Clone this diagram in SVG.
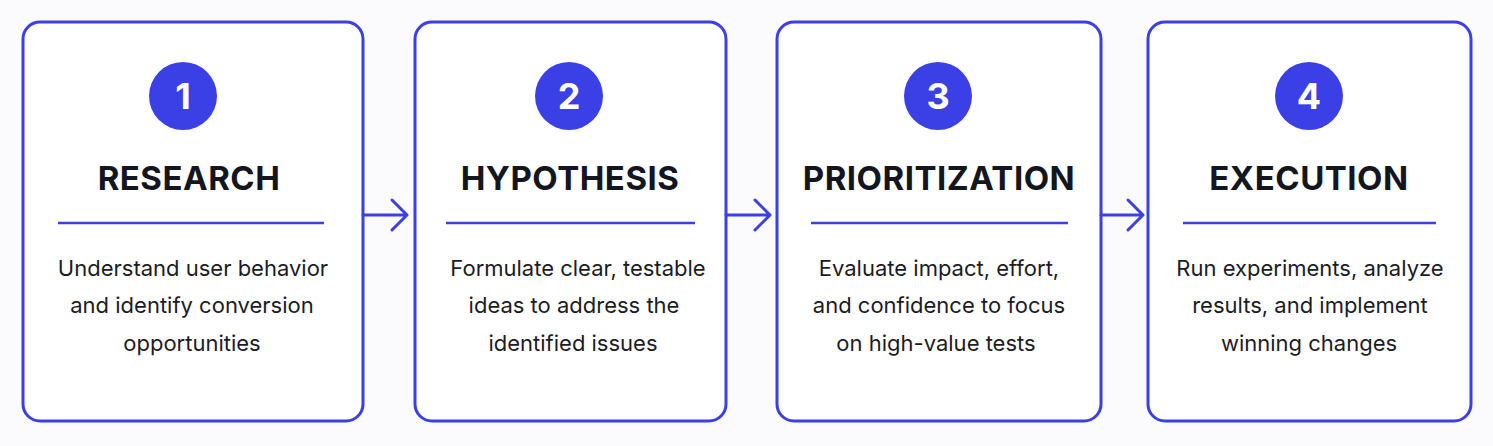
<svg xmlns="http://www.w3.org/2000/svg" width="1493" height="446" viewBox="0 0 1493 446">
<style>
.box{fill:#ffffff;stroke:#3b3fe6;stroke-width:3}
.circ{fill:#3b3fe6}
.num{font-family:Inter,"Noto Sans",sans-serif;font-weight:700;font-size:36px;fill:#ffffff;text-anchor:middle}
.title{font-family:Inter,"Noto Sans",sans-serif;font-weight:700;font-size:33px;fill:#14161f;text-anchor:middle;letter-spacing:0.5px}
.div{stroke:#3b3fe6;stroke-width:2.5}
.desc{font-family:Inter,"Noto Sans",sans-serif;font-size:22px;fill:#1c1c24;text-anchor:middle}
.conn{stroke:#3b3fe6;stroke-width:3;fill:none;stroke-linecap:round;stroke-linejoin:round}
</style>
<rect width="1493" height="446" fill="#fbfbfd"/>
<g id="node1">
<rect class="box" x="23" y="22" width="340" height="399" rx="17"/>
<circle class="circ" cx="183" cy="96" r="34"/>
<text class="num" x="183" y="109">1</text>
<text class="title" x="189" y="190">RESEARCH</text>
<line class="div" x1="58" y1="223" x2="324" y2="223"/>
<text class="desc" x="193" y="276">Understand user behavior</text>
<text class="desc" x="192" y="313">and identify conversion</text>
<text class="desc" x="192" y="351">opportunities</text>
</g>
<g id="node2">
<rect class="box" x="415" y="22" width="311" height="399" rx="17"/>
<circle class="circ" cx="569" cy="96" r="34"/>
<text class="num" x="569" y="109">2</text>
<text class="title" x="570" y="190">HYPOTHESIS</text>
<line class="div" x1="446" y1="223" x2="695" y2="223"/>
<text class="desc" x="578" y="276">Formulate clear, testable</text>
<text class="desc" x="574" y="313">ideas to address the</text>
<text class="desc" x="573" y="351">identified issues</text>
</g>
<g id="node3">
<rect class="box" x="777" y="22" width="324" height="399" rx="17"/>
<circle class="circ" cx="938" cy="96" r="34"/>
<text class="num" x="938" y="109">3</text>
<text class="title" x="939" y="190">PRIORITIZATION</text>
<line class="div" x1="811" y1="223" x2="1068" y2="223"/>
<text class="desc" x="939" y="276">Evaluate impact, effort,</text>
<text class="desc" x="939" y="313">and confidence to focus</text>
<text class="desc" x="936" y="351">on high-value tests</text>
</g>
<g id="node4">
<rect class="box" x="1148" y="22" width="323" height="399" rx="17"/>
<circle class="circ" cx="1309" cy="96" r="34"/>
<text class="num" x="1309" y="109">4</text>
<text class="title" x="1309" y="190">EXECUTION</text>
<line class="div" x1="1183" y1="223" x2="1436" y2="223"/>
<text class="desc" x="1310" y="276">Run experiments, analyze</text>
<text class="desc" x="1310" y="313">results, and implement</text>
<text class="desc" x="1309" y="351">winning changes</text>
</g>
<g id="connectors">
<path class="conn" d="M363 215 H407 M392 200 L407 215 L392 230"/>
<path class="conn" d="M726 215 H770 M755 200 L770 215 L755 230"/>
<path class="conn" d="M1101 215 H1143 M1128 200 L1143 215 L1128 230"/>
</g>
</svg>
